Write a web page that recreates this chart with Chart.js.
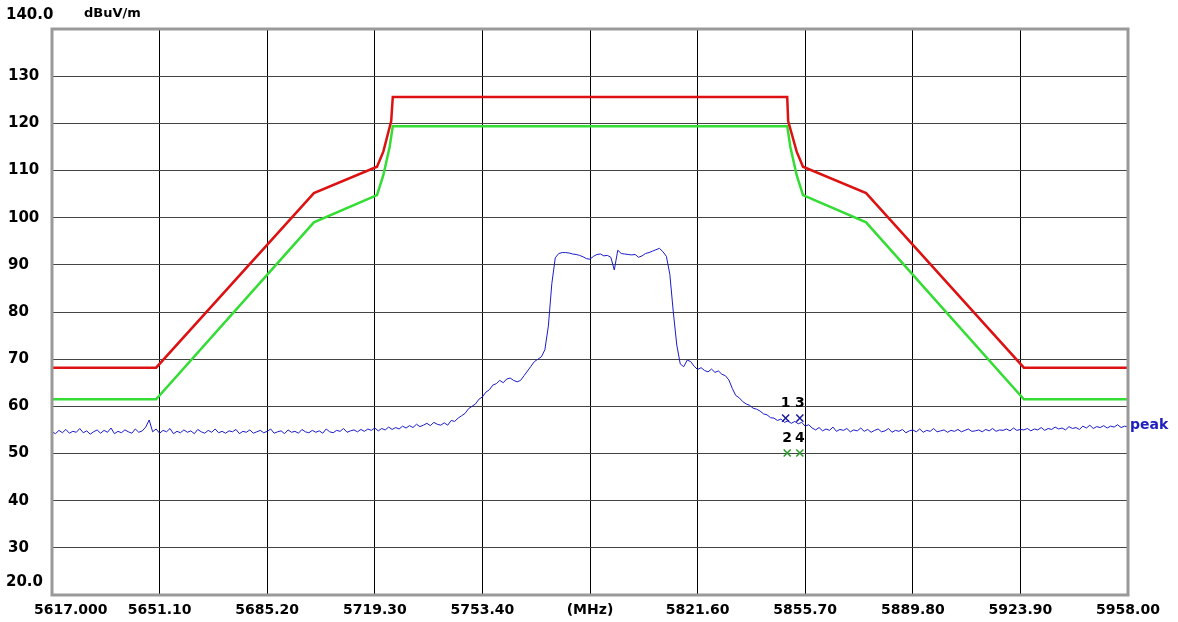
<!DOCTYPE html>
<html>
<head>
<meta charset="utf-8">
<script src="https://cdn.jsdelivr.net/npm/chart.js@4"></script>
<style>
  body { margin: 0; background: #fff; }
  canvas { display: block; }
</style>
</head>
<body>
<canvas id="emiChart" width="1178" height="622"></canvas>
<script>
// x axis ticks (MHz) and their printed labels
const xTicks = [5617, 5651.1, 5685.2, 5719.3, 5753.4, 5787.5, 5821.6, 5855.7, 5889.8, 5923.9, 5958];
const xTickLabels = ['5617.000', '5651.10', '5685.20', '5719.30', '5753.40', '(MHz)', '5821.60', '5855.70', '5889.80', '5923.90', '5958.00'];
const yTicks = [20, 30, 40, 50, 60, 70, 80, 90, 100, 110, 120, 130, 140];

// limit lines
const redX = [5617, 5650, 5700, 5720, 5722, 5724.5, 5725, 5850, 5850.3, 5853, 5855, 5875, 5925, 5958];
const redY = [68.2, 68.2, 105.2, 110.8, 114, 120.5, 125.6, 125.6, 120.5, 114, 110.8, 105.2, 68.2, 68.2];
const greenX = [5617, 5650, 5700, 5720, 5722, 5724, 5725, 5850, 5851, 5853, 5855, 5875, 5925, 5958];
const greenY = [61.5, 61.5, 99, 104.8, 109, 115, 119.4, 119.4, 115, 109, 104.8, 99, 61.5, 61.5];

// peak trace, one reading every 1.1 MHz from 5617 MHz
const peakStart = 5617;
const peakStep = 1.1;
const peakValues = [
  54.6, 54.2, 54.9, 54.4, 55.1, 54.3, 54.7, 54.5, 55.3, 54.4,
  54.8, 54.1, 54.6, 55.0, 54.3, 54.9, 54.5, 55.4, 54.2, 54.7,
  54.4, 55.0, 54.6, 54.3, 55.2, 54.5, 54.8, 55.6, 57.1, 54.6,
  55.2, 54.3, 54.9, 54.6, 55.3, 54.2, 54.7, 54.4, 55.0, 54.5,
  54.8, 54.2, 55.1, 54.6, 54.3, 54.9, 54.5, 55.2, 54.4, 54.7,
  54.3, 54.8, 54.6, 55.1, 54.2, 54.7, 54.5, 55.0, 54.3, 54.6,
  54.9, 54.4, 54.7, 55.2, 54.3, 54.6, 54.8, 54.2, 55.0, 54.5,
  54.7, 54.3, 55.1, 54.6, 54.4, 54.9, 54.5, 54.8, 54.3, 55.2,
  54.6, 54.4, 54.9, 54.7, 55.3, 54.5, 54.8, 55.0, 54.6, 55.1,
  54.7, 55.2, 54.9, 55.4, 54.8, 55.3, 55.0, 55.6, 55.1, 55.5,
  55.2, 55.8, 55.4, 55.9, 55.5, 56.2, 55.7, 56.0, 56.4, 55.9,
  56.6, 56.2, 56.0, 56.5, 56.0, 57.0, 56.8, 57.5, 58.0, 58.5,
  59.5, 60.0, 60.5, 61.5, 62.0, 63.0, 63.5, 64.5, 64.8, 65.5,
  65.0, 65.8, 66.0, 65.5, 65.2, 65.5, 66.5, 67.5, 68.5, 69.5,
  70.0, 70.5, 72.0, 77.0, 86.0, 91.5, 92.4, 92.6, 92.6, 92.5,
  92.3, 92.2, 92.0, 91.7, 91.3, 91.2, 91.8, 92.2, 92.3, 91.9,
  92.0, 91.6, 88.9, 93.1, 92.4, 92.3, 92.2, 92.1, 92.2, 91.6,
  91.9, 92.4, 92.6, 92.9, 93.2, 93.5, 92.8, 91.8, 88.0, 80.0,
  73.0, 69.0, 68.4, 69.8, 69.5, 68.5, 67.8, 68.2, 67.6, 67.3,
  67.9, 67.2, 67.5, 66.8, 66.5, 65.6, 63.8, 62.3, 61.8, 61.0,
  60.5, 60.2, 59.6, 59.4, 59.0, 58.4, 58.2, 57.6, 57.5, 57.0,
  57.3, 56.6, 56.9, 56.4, 56.8, 56.3, 56.6, 55.8, 56.1, 55.4,
  55.0, 55.5, 54.8, 55.2, 54.9, 55.6, 54.7, 55.1, 54.9, 55.3,
  54.6, 55.0, 54.8, 55.4, 54.7, 55.1, 54.5, 54.9, 55.2, 54.6,
  54.8, 55.3, 54.5, 54.9, 54.7, 55.1, 54.4, 54.8, 55.0, 54.6,
  55.2, 54.5, 54.9, 54.7, 55.3, 54.6, 54.8, 55.0, 54.5, 54.9,
  54.7, 55.1, 54.6, 54.9, 55.2, 54.7, 54.8, 55.0, 54.6, 55.1,
  54.8, 55.3, 54.7, 55.0, 54.9, 55.2, 54.8, 55.4, 54.9, 55.1,
  55.0, 55.3, 54.8, 55.2, 55.0, 55.5, 54.9, 55.3, 55.1, 55.6,
  55.2, 55.4, 55.0, 55.7, 55.3, 55.5, 55.1, 55.8, 55.4, 56.0,
  55.3, 55.7, 55.5, 55.9, 55.4, 55.8, 55.6, 56.1, 55.5, 55.8, 55.6
];

// markers
const markerLabels = ['1', '2', '3', '4'];
const markerX = [5849.5, 5850, 5854, 5854];
const markerY = [57.5, 50.1, 57.5, 50.1];
const markerColors = ['#1a1a9a', '#2a9a2a', '#1a1a9a', '#2a9a2a'];

const boldFont = { family: 'DejaVu Sans', size: 14, weight: 'bold' };

const pairs = (xs, ys) => xs.map((x, i) => ({ x: x, y: ys[i] }));
const peakPoints = peakValues.map((v, i) => ({ x: peakStart + i * peakStep, y: v }));

const extrasPlugin = {
  id: 'extras',
  afterDraw(chart) {
    const ctx = chart.ctx;
    const area = chart.chartArea;
    const xs = chart.scales.x;
    const ys = chart.scales.y;
    ctx.save();
    // frame
    ctx.strokeStyle = '#999';
    ctx.lineWidth = 3;
    ctx.strokeRect(area.left, area.top, area.right - area.left, area.bottom - area.top);

    ctx.fillStyle = '#000';
    ctx.textBaseline = 'middle';
    ctx.textAlign = 'left';
    ctx.font = 'bold 15px "DejaVu Sans"';
    ctx.fillText('140.0', 6, ys.getPixelForValue(140) - 14);
    ctx.fillText('20.0', 6, ys.getPixelForValue(20) - 13);
    ctx.font = 'bold 13px "DejaVu Sans"';
    ctx.fillText('dBuV/m', 84, ys.getPixelForValue(140) - 15);

    // first frequency label sits right of its gridline
    ctx.font = 'bold 14px "DejaVu Sans"';
    ctx.fillText(xTickLabels[0], 34, xs.bottom - 12);

    // marker numbers
    ctx.textAlign = 'center';
    markerLabels.forEach((lbl, i) => {
      ctx.fillText(lbl, xs.getPixelForValue(markerX[i]), ys.getPixelForValue(markerY[i]) - 15);
    });

    // trace name
    ctx.fillStyle = '#2020c0';
    ctx.textAlign = 'left';
    ctx.fillText('peak', area.right + 2, ys.getPixelForValue(peakValues[peakValues.length - 1]) - 2);
    ctx.restore();
  }
};

new Chart(document.getElementById('emiChart').getContext('2d'), {
  type: 'line',
  data: {
    datasets: [
      {
        label: 'limit',
        data: pairs(redX, redY),
        borderColor: '#dd1111',
        borderWidth: 2.5,
        pointRadius: 0,
        tension: 0
      },
      {
        label: 'limit2',
        data: pairs(greenX, greenY),
        borderColor: '#33dd33',
        borderWidth: 2.5,
        pointRadius: 0,
        tension: 0
      },
      {
        label: 'peak',
        data: peakPoints,
        borderColor: '#1a1acc',
        borderWidth: 1,
        pointRadius: 0,
        tension: 0
      },
      {
        label: 'markers',
        data: pairs(markerX, markerY),
        showLine: false,
        pointStyle: 'crossRot',
        pointRadius: 5,
        pointBorderWidth: 1.5,
        pointBorderColor: markerColors,
        borderColor: markerColors
      }
    ]
  },
  options: {
    responsive: false,
    animation: false,
    devicePixelRatio: 1,
    layout: { padding: { top: 29, right: 50, left: 8, bottom: 0 } },
    plugins: {
      legend: { display: false },
      tooltip: { enabled: false }
    },
    scales: {
      x: {
        type: 'linear',
        min: 5617,
        max: 5958,
        afterBuildTicks: (axis) => { axis.ticks = xTicks.map(v => ({ value: v })); },
        afterFit: (axis) => { axis.height = 27; },
        border: { display: false },
        grid: { color: '#000', lineWidth: 1, drawTicks: false },
        ticks: {
          autoSkip: false,
          maxRotation: 0,
          padding: 7,
          color: '#000',
          font: boldFont,
          callback: (v, i) => i === 0 ? '' : xTickLabels[i]
        }
      },
      y: {
        min: 20,
        max: 140,
        afterBuildTicks: (axis) => { axis.ticks = yTicks.map(v => ({ value: v })); },
        afterFit: (axis) => { axis.width = 44; },
        border: { display: false },
        grid: { color: '#444', lineWidth: 1, drawTicks: false },
        ticks: {
          crossAlign: 'far',
          color: '#000',
          font: { family: 'DejaVu Sans', size: 15, weight: 'bold' },
          callback: (v) => (v === 20 || v === 140) ? '' : String(v)
        }
      }
    }
  },
  plugins: [extrasPlugin]
});
</script>
</body>
</html>
